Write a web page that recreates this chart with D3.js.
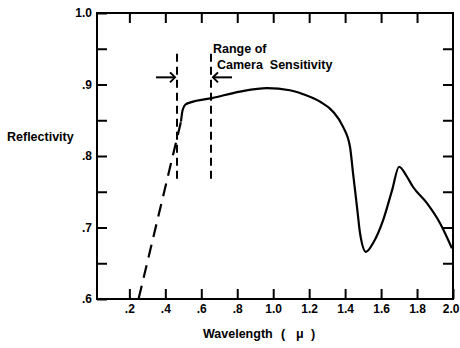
<!DOCTYPE html>
<html>
<head>
<meta charset="utf-8">
<script src="https://cdn.jsdelivr.net/npm/d3@7/dist/d3.min.js"></script>
<style>
  html, body { margin: 0; padding: 0; background: #ffffff; }
  svg { display: block; }
  text { font-family: "Liberation Sans", Arial, sans-serif; font-weight: bold; fill: #000; }
</style>
</head>
<body>
<div id="chart"></div>
<script>
// ---- data ----
const xTickValues = [0.2, 0.4, 0.6, 0.8, 1.0, 1.2, 1.4, 1.6, 1.8, 2.0];
const yTickValues = [0.6, 0.65, 0.7, 0.75, 0.8, 0.85, 0.9, 0.95, 1.0];
const yLabelValues = [0.6, 0.7, 0.8, 0.9, 1.0];

// extrapolated (dashed) part of the curve
const extrapWavelength = [0.252, 0.487];
const extrapReflect    = [0.601, 0.848];

// measured (solid) part of the curve
const measWavelength = [0.487, 0.496, 0.512, 0.540, 0.660, 0.815, 0.965, 1.093, 1.149, 1.260, 1.333, 1.388, 1.427, 1.444, 1.466, 1.483, 1.516, 1.555, 1.611, 1.661, 1.700, 1.744, 1.777, 1.855, 1.928, 1.994];
const measReflect    = [0.848, 0.864, 0.872, 0.875, 0.881, 0.890, 0.895, 0.892, 0.888, 0.876, 0.862, 0.841, 0.813, 0.776, 0.729, 0.692, 0.666, 0.678, 0.710, 0.752, 0.785, 0.771, 0.757, 0.734, 0.706, 0.671];

// camera sensitivity range (wavelength, microns)
const cameraRange = [0.465, 0.654];
const cameraLineTop = 0.943;
const cameraLineBottom = 0.762;
const arrowLevel = 0.91;

const W = 460, H = 348;
const margin = {left: 97, right: 7, top: 13, bottom: 49};

const svg = d3.select("#chart").append("svg")
  .attr("width", W).attr("height", H);

const x = d3.scaleLinear().domain([0.02, 2.0]).range([margin.left, W - margin.right]);
const y = d3.scaleLinear().domain([0.6, 1.0]).range([H - margin.bottom, margin.top]);

const fmt = v => d3.format(".1f")(v).replace(/^0\./, ".");

const axisStyle = g => {
  g.select(".domain").remove();
  g.selectAll(".tick line").attr("stroke", "#000").attr("stroke-width", 2);
  g.selectAll(".tick text").style("font-size", "12px").attr("fill", "#000");
};

// bottom axis
const bottom = svg.append("g")
  .attr("transform", `translate(0,${y(0.6)})`)
  .call(d3.axisBottom(x).tickValues(xTickValues).tickSize(-10).tickPadding(5).tickFormat(fmt))
  .call(axisStyle);
// last label sits at the right edge: right-align it so it stays inside
bottom.selectAll(".tick text").filter(d => d === 2.0)
  .attr("text-anchor", "end").attr("x", W - 1 - x(2.0));

// top axis (ticks only)
svg.append("g")
  .attr("transform", `translate(0,${y(1.0)})`)
  .call(d3.axisTop(x).tickValues(xTickValues.filter(v => v < 2)).tickSize(-10).tickFormat(""))
  .call(axisStyle);

// left axis
svg.append("g")
  .attr("transform", `translate(${x(0.02)},0)`)
  .call(d3.axisLeft(y).tickValues(yTickValues).tickSize(-10).tickPadding(5)
    .tickFormat(v => yLabelValues.some(l => Math.abs(l - v) < 1e-6) ? fmt(v) : ""))
  .call(axisStyle);

// right axis (ticks only)
svg.append("g")
  .attr("transform", `translate(${x(2.0)},0)`)
  .call(d3.axisRight(y).tickValues(yTickValues.filter(v => v > 0.6 && v < 1.0)).tickSize(-10).tickFormat(""))
  .call(axisStyle);

// frame
svg.append("rect")
  .attr("x", x(0.02)).attr("y", y(1.0))
  .attr("width", x(2.0) - x(0.02)).attr("height", y(0.6) - y(1.0))
  .attr("fill", "none").attr("stroke", "#000").attr("stroke-width", 2);

// curves
const line = d3.line().x(d => x(d[0])).y(d => y(d[1])).curve(d3.curveMonotoneX);

svg.append("path")
  .datum(d3.zip(extrapWavelength, extrapReflect))
  .attr("d", line)
  .attr("fill", "none").attr("stroke", "#000").attr("stroke-width", 2.2)
  .attr("stroke-dasharray", "13,8");

svg.append("path")
  .datum(d3.zip(measWavelength, measReflect))
  .attr("d", line)
  .attr("fill", "none").attr("stroke", "#000").attr("stroke-width", 2.2)
  .attr("stroke-linejoin", "round");

// camera range dashed lines
svg.selectAll(".camline")
  .data(cameraRange)
  .join("line")
  .attr("x1", d => x(d)).attr("x2", d => x(d))
  .attr("y1", y(cameraLineTop)).attr("y2", y(cameraLineBottom))
  .attr("stroke", "#000").attr("stroke-width", 2)
  .attr("stroke-dasharray", "8,5");

// arrows
const ay = y(arrowLevel);
const arrowLen = 19;
const head = 5;
const lx = x(cameraRange[0]) - 2;
svg.append("line").attr("x1", lx - arrowLen).attr("x2", lx).attr("y1", ay).attr("y2", ay)
  .attr("stroke", "#000").attr("stroke-width", 2);
svg.append("path").attr("d", `M${lx - head},${ay - head}L${lx},${ay}L${lx - head},${ay + head}`)
  .attr("fill", "none").attr("stroke", "#000").attr("stroke-width", 2);
const rx = x(cameraRange[1]) + 2;
svg.append("line").attr("x1", rx).attr("x2", rx + arrowLen).attr("y1", ay).attr("y2", ay)
  .attr("stroke", "#000").attr("stroke-width", 2);
svg.append("path").attr("d", `M${rx + head},${ay - head}L${rx},${ay}L${rx + head},${ay + head}`)
  .attr("fill", "none").attr("stroke", "#000").attr("stroke-width", 2);

// annotation text
svg.append("text").attr("x", 213).attr("y", 53).style("font-size", "12.5px").text("Range of");
svg.append("text").attr("x", 217).attr("y", 69).style("font-size", "12.5px")
  .style("white-space", "pre").text("Camera  Sensitivity");

// axis titles
svg.append("text").attr("x", 7).attr("y", 141).style("font-size", "12.5px").text("Reflectivity");
const xt = svg.append("g").style("font-size", "12.5px");
xt.append("text").attr("x", 203).attr("y", 338).text("Wavelength");
xt.append("text").attr("x", 281).attr("y", 338).text("(");
xt.append("text").attr("x", 296).attr("y", 338).text("μ");
xt.append("text").attr("x", 311).attr("y", 338).text(")");
</script>
</body>
</html>
